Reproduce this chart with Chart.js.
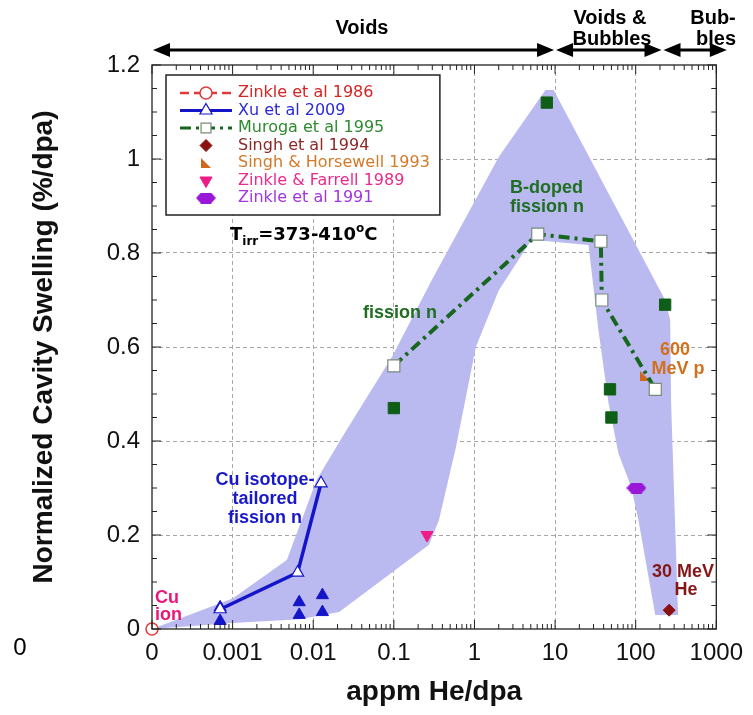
<!DOCTYPE html>
<html lang="en">
<head>
<meta charset="UTF-8">
<title>Normalized cavity swelling vs He/dpa</title>
<script src="https://cdn.jsdelivr.net/npm/chart.js"></script>
<style>
  html, body { margin: 0; padding: 0; background: #fff; }
  #wrap { width: 753px; height: 715px; }
</style>
</head>
<body>
<div id="wrap"><canvas id="chart" width="753" height="715"></canvas></div>
<script>
// x axis is log; the tick labelled "0" sits at 1e-4
const xTickValues = [1e-4, 1e-3, 1e-2, 0.1, 1, 10, 100, 1000];
const xTickLabels = ['0', '0.001', '0.01', '0.1', '1', '10', '100', '1000'];
const yTickValues = [0, 0.2, 0.4, 0.6, 0.8, 1, 1.2];

// shaded envelope, traced round from the origin
const bandX = [1e-4, 0.001, 0.0068, 0.021, 0.273, 0.363, 0.59, 1.04, 2.0, 5.1, 26, 34.5, 46, 61, 88, 108, 175, 336,
               275, 268, 232, 9.6, 7.6, 2.0, 0.297, 0.095, 0.023, 0.011, 0.0047, 0.001];
const bandY = [0, 0.013, 0.021, 0.036, 0.179, 0.232, 0.387, 0.6, 0.72, 0.828, 0.817, 0.636, 0.481, 0.374, 0.302, 0.232, 0.03, 0.03,
               0.481, 0.657, 0.70, 1.147, 1.147, 1.004, 0.743, 0.579, 0.409, 0.317, 0.147, 0.065];

const zinkle1986X = [1e-4];
const zinkle1986Y = [0];
const xu2009X = [0.0007, 0.0064, 0.0125];
const xu2009Y = [0.042, 0.12, 0.31];
const xuSolidX = [0.0007, 0.0007, 0.0067, 0.0067, 0.013, 0.013];
const xuSolidY = [0.046, 0.017, 0.057, 0.03, 0.072, 0.036];
const muroga1995X = [0.1, 6.1, 37, 38, 175];
const muroga1995Y = [0.56, 0.84, 0.825, 0.70, 0.51];
const murogaSolidX = [0.1, 7.9, 48, 50, 232];
const murogaSolidY = [0.47, 1.12, 0.51, 0.45, 0.69];
const singh1994X = [260];
const singh1994Y = [0.04];
const singhHorsewellX = [131];
const singhHorsewellY = [0.538];
const zinkleFarrellX = [0.258];
const zinkleFarrellY = [0.2];
const zinkle1991X = [102];
const zinkle1991Y = [0.30];

const legendLabels = ['Zinkle et al 1986', 'Xu et al 2009', 'Muroga et al 1995', 'Singh et al 1994',
                      'Singh & Horsewell 1993', 'Zinkle & Farrell 1989', 'Zinkle et al 1991'];
const legendColors = ['#d62424', '#2a2ad8', '#2f8a30', '#8e2626', '#d27a2a', '#ec2a8c', '#a234e2'];
const legendDatasets = [0, 1, 3, 5, 6, 7, 8];

function pts(xs, ys) { return xs.map((x, i) => ({x: x, y: ys[i]})); }

function rightTriangle(color, s) {
  const c = document.createElement('canvas');
  c.width = s; c.height = s;
  const g = c.getContext('2d');
  g.fillStyle = color;
  g.beginPath(); g.moveTo(0, 0); g.lineTo(s, s); g.lineTo(0, s); g.closePath(); g.fill();
  return c;
}
function hexagon(color, w, h) {
  const c = document.createElement('canvas');
  c.width = w; c.height = h;
  const g = c.getContext('2d');
  g.fillStyle = color;
  g.beginPath();
  g.moveTo(0, h / 2); g.lineTo(w * 0.25, 0); g.lineTo(w * 0.75, 0);
  g.lineTo(w, h / 2); g.lineTo(w * 0.75, h); g.lineTo(w * 0.25, h);
  g.closePath(); g.fill();
  return c;
}

const tickFont = {family: "'Liberation Sans', Arial, Helvetica, sans-serif", size: 24};
const titleFont = {family: "'Liberation Sans', Arial, Helvetica, sans-serif", size: 28, weight: 'bold'};
const boldAnno = "bold 18px 'Liberation Sans', Arial, sans-serif";

function drawArrow(ctx, x1, x2, y) {
  const hl = 17, hw = 7;
  ctx.beginPath(); ctx.moveTo(x1 + hl - 2, y); ctx.lineTo(x2 - hl + 2, y); ctx.stroke();
  ctx.beginPath(); ctx.moveTo(x1, y); ctx.lineTo(x1 + hl, y - hw); ctx.lineTo(x1 + hl, y + hw); ctx.closePath(); ctx.fill();
  ctx.beginPath(); ctx.moveTo(x2, y); ctx.lineTo(x2 - hl, y - hw); ctx.lineTo(x2 - hl, y + hw); ctx.closePath(); ctx.fill();
}

const decorPlugin = {
  id: 'decor',
  afterDatasetsDraw(chart) {
    const ctx = chart.ctx;
    const a = chart.chartArea;
    const xs = chart.scales.x, ys = chart.scales.y;
    ctx.save();
    // frame
    ctx.strokeStyle = '#222'; ctx.lineWidth = 1.3;
    ctx.strokeRect(a.left, a.top, a.right - a.left, a.bottom - a.top);
    // x ticks top and bottom
    ctx.lineWidth = 1;
    for (let e = -4; e <= 3; e++) {
      for (let k = 1; k <= 9; k++) {
        const v = k * Math.pow(10, e);
        if (v > 1000) break;
        const px = xs.getPixelForValue(v);
        const len = k === 1 ? 9 : 5;
        ctx.beginPath();
        ctx.moveTo(px, a.bottom); ctx.lineTo(px, a.bottom - len);
        ctx.moveTo(px, a.top); ctx.lineTo(px, a.top + len);
        ctx.stroke();
      }
    }
    // y ticks left and right
    for (let i = 0; i <= 24; i++) {
      const py = ys.getPixelForValue(i * 0.05);
      const len = i % 4 === 0 ? 9 : 5;
      ctx.beginPath();
      ctx.moveTo(a.left, py); ctx.lineTo(a.left + len, py);
      ctx.moveTo(a.right, py); ctx.lineTo(a.right - len, py);
      ctx.stroke();
    }

    // regime arrows above the plot
    ctx.strokeStyle = '#000'; ctx.fillStyle = '#000'; ctx.lineWidth = 3;
    const b1 = xs.getPixelForValue(10), b2 = xs.getPixelForValue(215);
    drawArrow(ctx, a.left + 1, b1 - 1, 50);
    drawArrow(ctx, b1 + 1, b2 - 1, 50);
    drawArrow(ctx, b2 + 1, xs.getPixelForValue(1350), 50);
    ctx.font = "bold 20px 'Liberation Sans', Arial, sans-serif";
    ctx.textAlign = 'center'; ctx.textBaseline = 'middle';
    ctx.fillText('Voids', 362, 28);
    ctx.fillText('Voids &', 610, 18);
    ctx.fillText('Bubbles', 612, 39);
    ctx.fillText('Bub-', 713, 18);
    ctx.fillText('bles', 716, 39);

    // stray zero at left of the tick row
    ctx.font = "24px 'Liberation Sans', Arial, sans-serif";
    ctx.fillText('0', 20, 648);

    // annotations
    ctx.font = boldAnno;
    ctx.textAlign = 'left';
    ctx.fillStyle = '#e8177c';
    ctx.fillText('Cu', 155, 598);
    ctx.fillText('ion', 155, 615);
    ctx.textAlign = 'center';
    ctx.fillStyle = '#1818c8';
    ctx.fillText('Cu isotope-', 265, 480);
    ctx.fillText('tailored', 265, 499);
    ctx.fillText('fission n', 265, 518);
    ctx.fillStyle = '#1f6e22';
    ctx.fillText('fission n', 400, 313);
    ctx.textAlign = 'left';
    ctx.fillText('B-doped', 510, 188);
    ctx.fillText('fission n', 510, 207);
    ctx.textAlign = 'center';
    ctx.fillStyle = '#d2701c';
    ctx.fillText('600', 675, 350);
    ctx.fillText('MeV p', 678, 369);
    ctx.fillStyle = '#861616';
    ctx.fillText('30 MeV', 683, 572);
    ctx.fillText('He', 686, 590);

    // T_irr label
    ctx.fillStyle = '#000';
    ctx.textAlign = 'left'; ctx.textBaseline = 'alphabetic';
    let tx = 230;
    const big = "bold 18px 'DejaVu Sans', sans-serif", small = "bold 12px 'DejaVu Sans', sans-serif";
    const parts = [['T', big, 0], ['irr', small, 5], ['=373-410', big, 0], ['o', small, -8], ['C', big, 0]];
    parts.forEach(p => {
      ctx.font = p[1];
      ctx.fillText(p[0], tx, 240 + p[2]);
      tx += ctx.measureText(p[0]).width;
    });

    // legend box
    ctx.font = "16px 'DejaVu Sans', sans-serif";
    let maxW = 0;
    legendLabels.forEach(l => { maxW = Math.max(maxW, ctx.measureText(l).width); });
    ctx.fillStyle = '#fff';
    ctx.fillRect(166, 75, 238 + maxW + 10 - 166, 140);
    ctx.strokeStyle = '#222'; ctx.lineWidth = 1.5;
    ctx.strokeRect(166, 75, 238 + maxW + 10 - 166, 140);
    ctx.textBaseline = 'middle';
    legendLabels.forEach((label, i) => {
      const y = 93 + i * 17.5;
      const ds = chart.data.datasets[legendDatasets[i]];
      if (i < 3) {
        ctx.save();
        ctx.strokeStyle = ds.borderColor;
        ctx.lineWidth = i === 0 ? 2.5 : 3;
        ctx.setLineDash(ds.borderDash || []);
        ctx.beginPath(); ctx.moveTo(180, y); ctx.lineTo(232, y); ctx.stroke();
        ctx.restore();
      }
      ctx.save();
      ctx.fillStyle = ds.pointBackgroundColor;
      ctx.strokeStyle = ds.pointBorderColor;
      ctx.lineWidth = ds.pointBorderWidth || 1;
      Chart.helpers.drawPoint(ctx, {
        pointStyle: ds.pointStyle, rotation: ds.pointRotation || 0,
        radius: Math.min(ds.pointRadius, 7), borderWidth: ds.pointBorderWidth || 1
      }, 206, y);
      ctx.restore();
      ctx.fillStyle = legendColors[i];
      ctx.fillText(label, 238, y);
    });
    ctx.restore();
  }
};

new Chart(document.getElementById('chart'), {
  type: 'scatter',
  data: {
    datasets: [
      { label: 'Zinkle et al 1986', data: pts(zinkle1986X, zinkle1986Y), pointStyle: 'circle', pointRadius: 6,
        pointBackgroundColor: '#fff', pointBorderColor: '#e03a3a', pointBorderWidth: 1.5,
        borderColor: '#e03a3a', borderDash: [9, 5], clip: false },
      { label: 'Xu et al 2009', data: pts(xu2009X, xu2009Y), showLine: true, borderColor: '#1414c8', borderWidth: 3.5,
        pointStyle: 'triangle', pointRadius: 7, pointBackgroundColor: '#fff', pointBorderColor: '#1414c8', pointBorderWidth: 1.2 },
      { label: 'Xu solid', data: pts(xuSolidX, xuSolidY), pointStyle: 'triangle', pointRadius: 7,
        pointBackgroundColor: '#1414c8', pointBorderColor: '#1414c8', pointBorderWidth: 1 },
      { label: 'Muroga et al 1995', data: pts(muroga1995X, muroga1995Y), showLine: true, borderColor: '#17661d',
        borderWidth: 4, borderDash: [11, 5, 3, 5], pointStyle: 'rect', pointRadius: 8.5,
        pointBackgroundColor: '#fff', pointBorderColor: '#7a8a7a', pointBorderWidth: 1.2 },
      { label: 'Muroga solid', data: pts(murogaSolidX, murogaSolidY), pointStyle: 'rect', pointRadius: 8,
        pointBackgroundColor: '#0f5e17', pointBorderColor: '#0f5e17', pointBorderWidth: 1 },
      { label: 'Singh et al 1994', data: pts(singh1994X, singh1994Y), pointStyle: 'rectRot', pointRadius: 6,
        pointBackgroundColor: '#8b1010', pointBorderColor: '#8b1010', pointBorderWidth: 1 },
      { label: 'Singh & Horsewell 1993', data: pts(singhHorsewellX, singhHorsewellY), pointStyle: rightTriangle('#d0661a', 10),
        pointRadius: 6, pointBackgroundColor: '#d0661a', pointBorderColor: '#d0661a' },
      { label: 'Zinkle & Farrell 1989', data: pts(zinkleFarrellX, zinkleFarrellY), pointStyle: 'triangle', pointRotation: 180,
        pointRadius: 7, pointBackgroundColor: '#ee1c84', pointBorderColor: '#ee1c84', pointBorderWidth: 1 },
      { label: 'Zinkle et al 1991', data: pts(zinkle1991X, zinkle1991Y), pointStyle: hexagon('#9b17d8', 20, 11),
        pointRadius: 8, pointBackgroundColor: '#9b17d8', pointBorderColor: '#9b17d8' },
      { label: 'envelope', data: pts(bandX, bandY), showLine: true, borderWidth: 0, pointRadius: 0,
        backgroundColor: '#babaf1', fill: 'shape', order: 10 }
    ]
  },
  options: {
    responsive: false,
    animation: false,
    events: [],
    layout: { padding: { top: 65, right: 35, left: 0, bottom: 0 } },
    plugins: { legend: { display: false }, tooltip: { enabled: false } },
    scales: {
      x: {
        type: 'logarithmic', min: 1e-4, max: 1000,
        afterBuildTicks: s => { s.ticks = xTickValues.map(v => ({value: v})); },
        afterFit: s => { s.height = 86; },
        ticks: { autoSkip: false, maxRotation: 0, padding: 10, font: tickFont, color: '#111',
                 callback: (v, i) => xTickLabels[i] },
        grid: { drawTicks: false, lineWidth: 1,
                color: c => (c.tick && c.tick.value > 1.01e-4 && c.tick.value < 999) ? '#a8a8a8' : 'rgba(0,0,0,0)' },
        border: { display: false, dash: [4, 3] },
        title: { display: true, text: 'appm He/dpa', font: titleFont, color: '#111', padding: { top: 0, bottom: 6 } }
      },
      y: {
        min: 0, max: 1.2,
        afterBuildTicks: s => { s.ticks = yTickValues.map(v => ({value: v})); },
        afterFit: s => { s.width = 152; },
        ticks: { padding: 12, font: tickFont, color: '#111', callback: v => String(Number(v.toFixed(1))) },
        grid: { drawTicks: false, lineWidth: 1,
                color: c => (c.tick && c.tick.value > 0.01 && c.tick.value < 1.19) ? '#a8a8a8' : 'rgba(0,0,0,0)' },
        border: { display: false, dash: [4, 3] },
        title: { display: true, text: 'Normalized Cavity Swelling (%/dpa)', font: titleFont, color: '#111',
                 padding: { top: 27, bottom: 0 } }
      }
    }
  },
  plugins: [decorPlugin]
});
</script>
</body>
</html>
